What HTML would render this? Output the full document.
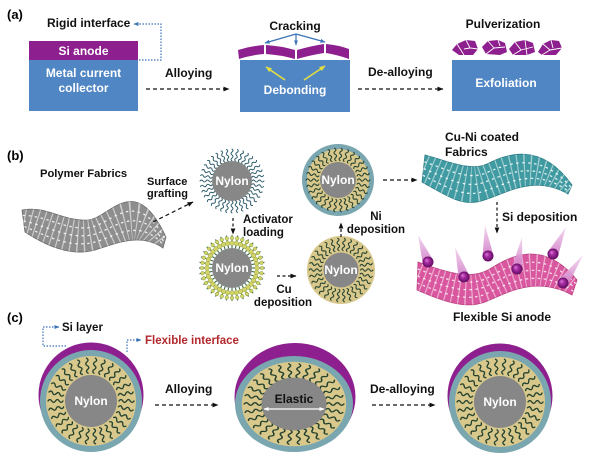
<!DOCTYPE html>
<html><head><meta charset="utf-8"><style>
html,body{margin:0;padding:0;background:#fff;}
svg{display:block;}
text{font-family:"Liberation Sans",Arial,sans-serif;font-weight:bold;}
</style></head><body>
<svg width="600" height="456" viewBox="0 0 600 456" xmlns="http://www.w3.org/2000/svg">
<defs>
<marker id="ah" viewBox="0 0 6 6" markerWidth="6" markerHeight="6" refX="5.5" refY="3" orient="auto" markerUnits="userSpaceOnUse"><path d="M0,0.6 L6,3 L0,5.4Z" fill="#111"/></marker>
<marker id="ahB" viewBox="0 0 6 6" markerWidth="5" markerHeight="5" refX="5.5" refY="3" orient="auto" markerUnits="userSpaceOnUse"><path d="M0,0.6 L6,3 L0,5.4Z" fill="#3b72b8"/></marker>
<marker id="ahY" viewBox="0 0 6 6" markerWidth="6" markerHeight="6" refX="5.5" refY="3" orient="auto" markerUnits="userSpaceOnUse"><path d="M0,0.6 L6,3 L0,5.4Z" fill="#e4df3f"/></marker>
<marker id="ahW" viewBox="0 0 6 6" markerWidth="5" markerHeight="5" refX="5.5" refY="3" orient="auto-start-reverse" markerUnits="userSpaceOnUse"><path d="M0,0.6 L6,3 L0,5.4Z" fill="#fff"/></marker>
<radialGradient id="ball" cx="50%" cy="50%" r="50%" fx="35%" fy="32%"><stop offset="0" stop-color="#dc7ad8"/><stop offset="0.45" stop-color="#a3299f"/><stop offset="1" stop-color="#5e0c5e"/></radialGradient>
<linearGradient id="cone" x1="0" y1="0" x2="0" y2="1"><stop offset="0" stop-color="#f3d8ef"/><stop offset="1" stop-color="#cf78c6"/></linearGradient>

<clipPath id="cpG"><path d="M22,210 C45,205 65,222 88,220 C110,218 135,170 166,237 L163,248 C140,232 115,244 95,250 C70,257 45,245 25,232 Z"/></clipPath>
<clipPath id="cpT"><path d="M425,155 C445,160 470,172 487,164 C505,155 540,140 572,185 L568,194 C530,172 500,198 477,202 C460,205 445,195 422,182 Z"/></clipPath>
<clipPath id="cpP"><path d="M418,262 C445,272 470,280 488,270 C505,260 540,235 577,280 L572,295 C535,275 505,294 485,302 C465,310 440,300 417,290 Z"/></clipPath>

<path id="sqC" d="M28,0 q1.875,-2.8 3.75,0 t3.75,0 t3.75,0 t3.75,0" fill="none" stroke="#25422f" stroke-width="1.35" stroke-linecap="round"/>
<g id="g5C"><use href="#sqC"/><use href="#sqC" transform="rotate(12)"/><use href="#sqC" transform="rotate(24)"/><use href="#sqC" transform="rotate(36)"/><use href="#sqC" transform="rotate(48)"/></g>
<g id="rC"><use href="#g5C"/><use href="#g5C" transform="rotate(60)"/><use href="#g5C" transform="rotate(120)"/><use href="#g5C" transform="rotate(180)"/><use href="#g5C" transform="rotate(240)"/><use href="#g5C" transform="rotate(300)"/></g>

<path id="sqB" d="M19.5,0 q1.55,-2.3 3.1,0 t3.1,0 t3.1,0 t3.1,0" fill="none" stroke="#25422f" stroke-width="1.1" stroke-linecap="round"/>
<g id="g5B"><use href="#sqB"/><use href="#sqB" transform="rotate(12)"/><use href="#sqB" transform="rotate(24)"/><use href="#sqB" transform="rotate(36)"/><use href="#sqB" transform="rotate(48)"/></g>
<g id="rB"><use href="#g5B"/><use href="#g5B" transform="rotate(60)"/><use href="#g5B" transform="rotate(120)"/><use href="#g5B" transform="rotate(180)"/><use href="#g5B" transform="rotate(240)"/><use href="#g5B" transform="rotate(300)"/></g>

<path id="sqH" d="M20,0 q1.5,-2 3,0 t3,0 t3,0 t3,0" fill="none" stroke="#2e5b6b" stroke-width="1.0" stroke-linecap="round"/>
<g id="g6H"><use href="#sqH"/><use href="#sqH" transform="rotate(10)"/><use href="#sqH" transform="rotate(20)"/><use href="#sqH" transform="rotate(30)"/><use href="#sqH" transform="rotate(40)"/><use href="#sqH" transform="rotate(50)"/></g>
<g id="rH"><use href="#g6H"/><use href="#g6H" transform="rotate(60)"/><use href="#g6H" transform="rotate(120)"/><use href="#g6H" transform="rotate(180)"/><use href="#g6H" transform="rotate(240)"/><use href="#g6H" transform="rotate(300)"/></g>

<g id="a1"><line x1="20" y1="0" x2="33" y2="0" stroke="#3a6b47" stroke-width="1.1"/><circle cx="25" cy="0" r="2.3" fill="#d4d466" stroke="#7d9440" stroke-width="0.4"/><circle cx="30" cy="0" r="1.8" fill="#d4d466" stroke="#7d9440" stroke-width="0.4"/></g>
<g id="g6A"><use href="#a1"/><use href="#a1" transform="rotate(10)"/><use href="#a1" transform="rotate(20)"/><use href="#a1" transform="rotate(30)"/><use href="#a1" transform="rotate(40)"/><use href="#a1" transform="rotate(50)"/></g>
<g id="rA"><use href="#g6A"/><use href="#g6A" transform="rotate(60)"/><use href="#g6A" transform="rotate(120)"/><use href="#g6A" transform="rotate(180)"/><use href="#g6A" transform="rotate(240)"/><use href="#g6A" transform="rotate(300)"/></g>
</defs>

<!-- ================= Panel (a) ================= -->
<text x="7" y="19" font-size="13">(a)</text>
<text x="47" y="27" font-size="12" fill="#111">Rigid interface</text>
<polyline points="139,60 161,60 161,24 134,24" fill="none" stroke="#3b72b8" stroke-width="1.2" stroke-dasharray="1.5,1.5" marker-end="url(#ahB)"/>
<rect x="29" y="41" width="109" height="19" fill="#8e1f8e"/>
<rect x="29" y="60" width="109" height="51" fill="#5086c4"/>
<text x="83.5" y="55" font-size="12" fill="#fff" text-anchor="middle">Si anode</text>
<text x="83.5" y="77" font-size="12" fill="#fff" text-anchor="middle">Metal current</text>
<text x="83.5" y="92" font-size="12" fill="#fff" text-anchor="middle">collector</text>

<text x="165" y="77" font-size="12" fill="#111">Alloying</text>
<line x1="146" y1="89" x2="229" y2="89" stroke="#111" stroke-width="1.2" stroke-dasharray="4,3" marker-end="url(#ah)"/>

<text x="295" y="30" font-size="12" fill="#111" text-anchor="middle">Cracking</text>
<g stroke="#3b72b8" stroke-width="1.2" fill="none">
<line x1="296" y1="34" x2="265" y2="43" marker-end="url(#ahB)"/>
<line x1="296" y1="34" x2="296" y2="45" marker-end="url(#ahB)"/>
<line x1="296" y1="34" x2="325" y2="42" marker-end="url(#ahB)"/>
</g>
<rect x="240" y="60" width="110" height="52" fill="#5086c4"/>
<g fill="#8e1f8e">
<path d="M238,50 Q251,46 264,45 L264,54 Q251,55 239,59 Z"/>
<path d="M266,45 Q281,46 295,50 L295,59 Q281,55 266,54 Z"/>
<path d="M297,50 Q311,46 324,44 L324,53 Q311,55 297,59 Z"/>
<path d="M326,44 Q338,45 349,49 L349,59 Q338,55 326,53 Z"/>
</g>
<g stroke="#e4df3f" stroke-width="1.6" fill="none">
<line x1="285" y1="80" x2="266" y2="67" marker-end="url(#ahY)"/>
<line x1="304" y1="80" x2="325" y2="66" marker-end="url(#ahY)"/>
</g>
<text x="295" y="94" font-size="12" fill="#fff" text-anchor="middle">Debonding</text>

<text x="368" y="76" font-size="12" fill="#111">De-alloying</text>
<line x1="358" y1="89" x2="443" y2="89" stroke="#111" stroke-width="1.2" stroke-dasharray="4,3" marker-end="url(#ah)"/>

<text x="503" y="28" font-size="12" fill="#111" text-anchor="middle">Pulverization</text>
<g fill="#8e1f8e">
<polygon points="452,50 457,44 466,40 475,41 478,49 473,55 459,55"/>
<polygon points="482,47 488,41 498,40 505,43 507,52 500,55 486,54"/>
<polygon points="509,49 515,42 525,40 533,43 535,52 527,55 513,55"/>
<polygon points="538,52 543,44 551,40 559,41 562,48 556,55 542,55"/>
</g>
<g stroke="#fff" stroke-width="0.9" fill="none">
<path d="M457,44 L464,55 M466,40 L470,48 L478,49 M464,49 L470,48"/>
<path d="M488,41 L494,48 L486,54 M494,48 L505,47 M498,40 L500,46"/>
<path d="M515,42 L521,50 L513,55 M521,50 L533,47 M525,40 L527,55"/>
<path d="M543,44 L550,50 L542,55 M550,50 L562,48 M551,40 L553,48"/>
</g>
<rect x="452" y="60" width="108" height="51" fill="#5086c4"/>
<text x="506" y="87" font-size="12" fill="#fff" text-anchor="middle">Exfoliation</text>

<!-- ================= Panel (b) ================= -->
<text x="7" y="160" font-size="13">(b)</text>
<text x="40" y="177" font-size="11.2" fill="#111">Polymer Fabrics</text>

<!-- gray fabric -->
<path d="M22,210 C45,205 65,222 88,220 C110,218 135,170 166,237 L163,248 C140,232 115,244 95,250 C70,257 45,245 25,232 Z" fill="#8e8e8e" stroke="#6a6a6a" stroke-width="0.8"/>
<g clip-path="url(#cpG)">
<path d="M23.5,221 C45,225 67.5,239.5 91.5,235 C112.5,231 137.5,201 164.5,242.5" fill="none" stroke="#fff" stroke-width="40" stroke-dasharray="1.2,5" opacity="0.55"/>
<g fill="none" stroke="#fff" stroke-width="1.3" stroke-dasharray="2.5,3.5" opacity="0.85">
<path d="M22.75,215.5 C45,215 66.25,230.75 89.75,227.5 C111.25,224.5 136.25,185.5 165.25,239.75"/>
<path d="M23.5,221 C45,225 67.5,239.5 91.5,235 C112.5,231 137.5,201 164.5,242.5"/>
<path d="M24.25,226.5 C45,235 68.75,248.25 93.25,242.5 C113.75,237.5 138.75,216.5 163.75,245.25"/>
</g>
</g>

<text x="147" y="185" font-size="11" fill="#111">Surface</text>
<text x="147" y="197" font-size="11" fill="#111">grafting</text>
<line x1="153" y1="222" x2="193" y2="202" stroke="#111" stroke-width="1.2" stroke-dasharray="4,3" marker-end="url(#ah)"/>

<!-- circle 1: grafted -->
<use href="#rH" transform="translate(232,181)"/>
<circle cx="232" cy="181" r="20" fill="#878787"/>
<text x="232" y="185" font-size="12" fill="#fff" text-anchor="middle">Nylon</text>

<line x1="233" y1="218" x2="233" y2="234" stroke="#111" stroke-width="1.2" stroke-dasharray="3,2.5" marker-end="url(#ah)"/>
<text x="243" y="223" font-size="11.5" fill="#111">Activator</text>
<text x="243" y="236" font-size="11.5" fill="#111">loading</text>

<!-- circle 2: activator -->
<use href="#rA" transform="translate(232,268)"/>
<circle cx="232" cy="268" r="20" fill="#878787"/>
<text x="232" y="272" font-size="12" fill="#fff" text-anchor="middle">Nylon</text>

<line x1="277" y1="276" x2="296" y2="276" stroke="#111" stroke-width="1.2" stroke-dasharray="3,2.5" marker-end="url(#ah)"/>
<text x="284" y="293" font-size="11.5" fill="#111" text-anchor="middle">Cu</text>
<text x="283" y="306" font-size="11.5" fill="#111" text-anchor="middle">deposition</text>

<!-- circle 3: Cu -->
<circle cx="341" cy="270" r="34" fill="#d8c88c"/>
<use href="#rB" transform="translate(341,270)"/>
<circle cx="341" cy="270" r="17.5" fill="#878787"/>
<text x="341" y="274" font-size="12" fill="#fff" text-anchor="middle">Nylon</text>

<line x1="341" y1="237" x2="341" y2="223" stroke="#111" stroke-width="1.2" stroke-dasharray="3,2" marker-end="url(#ah)"/>
<text x="376" y="220" font-size="11.5" fill="#111" text-anchor="middle">Ni</text>
<text x="376" y="233" font-size="11.5" fill="#111" text-anchor="middle">deposition</text>

<!-- circle 4: Ni -->
<circle cx="338" cy="180" r="36" fill="#7aa6b0"/>
<circle cx="338" cy="180" r="31" fill="#d8c88c"/>
<use href="#rB" transform="translate(338,180)"/>
<circle cx="338" cy="180" r="18" fill="#878787"/>
<text x="338" y="184" font-size="12" fill="#fff" text-anchor="middle">Nylon</text>

<line x1="383" y1="180" x2="417" y2="180" stroke="#111" stroke-width="1.2" stroke-dasharray="4,3" marker-end="url(#ah)"/>

<text x="445" y="141" font-size="12" fill="#111">Cu-Ni coated</text>
<text x="445" y="156" font-size="12" fill="#111">Fabrics</text>

<!-- teal fabric -->
<path d="M425,155 C445,160 470,172 487,164 C505,155 540,140 572,185 L568,194 C530,172 500,198 477,202 C460,205 445,195 422,182 Z" fill="#3f9aa1" stroke="#2c7d84" stroke-width="0.8"/>
<g clip-path="url(#cpT)">
<path d="M423.5,168.5 C445,177.5 465,188.5 482,183 C502.5,176.5 535,156 570,189.5" fill="none" stroke="#fff" stroke-width="40" stroke-dasharray="1.2,5" opacity="0.5"/>
<g fill="none" stroke="#fff" stroke-width="1.3" stroke-dasharray="2.5,3.5" opacity="0.85">
<path d="M424.25,161.75 C445,168.75 467.5,180.25 484.5,173.5 C503.75,165.75 537.5,148 571,187.25"/>
<path d="M423.5,168.5 C445,177.5 465,188.5 482,183 C502.5,176.5 535,156 570,189.5"/>
<path d="M422.75,175.25 C445,186.25 462.5,196.75 479.5,192.5 C501.25,187.25 532.5,164 569,191.75"/>
</g>
</g>

<line x1="497" y1="202" x2="497" y2="233" stroke="#111" stroke-width="1.2" stroke-dasharray="3,2.5" marker-end="url(#ah)"/>
<text x="502" y="221" font-size="12" fill="#111">Si deposition</text>

<!-- pink fabric -->
<path d="M418,262 C445,272 470,280 488,270 C505,260 540,235 577,280 L572,295 C535,275 505,294 485,302 C465,310 440,300 417,290 Z" fill="#d9579f" stroke="#b8407f" stroke-width="0.8"/>
<g clip-path="url(#cpP)">
<path d="M417.5,276 C442.5,286 467.5,295 486.5,286 C505,277 537.5,255 574.5,287.5" fill="none" stroke="#fff" stroke-width="44" stroke-dasharray="1.2,5" opacity="0.5"/>
<g fill="none" stroke="#fff" stroke-width="1.3" stroke-dasharray="2.5,3.5" opacity="0.8">
<path d="M417.75,269 C443.75,279 468.75,287.5 487.25,278 C505,268.5 538.75,245 575.75,283.75"/>
<path d="M417.5,276 C442.5,286 467.5,295 486.5,286 C505,277 537.5,255 574.5,287.5"/>
<path d="M417.25,283 C441.25,293 466.25,302.5 485.75,294 C505,285.5 536.25,265 573.25,291.25"/>
</g>
</g>
<!-- cones -->
<g fill="url(#cone)" opacity="0.9">
<polygon points="418,235 422.8,263.9 433.2,260.1"/>
<polygon points="455,247 458.7,278.6 469.3,275.4"/>
<polygon points="485,225 482.5,256.5 493.5,255.5"/>
<polygon points="522,237 511.6,268.2 522.4,269.8"/>
<polygon points="566,227 548,251.6 558,256.4"/>
<polygon points="583,255 558.5,279.8 567.5,286.2"/>
</g>
<g fill="url(#ball)">
<circle cx="428" cy="262" r="5.5"/>
<circle cx="464" cy="277" r="5.5"/>
<circle cx="488" cy="256" r="5.5"/>
<circle cx="517" cy="269" r="5.5"/>
<circle cx="553" cy="254" r="5.5"/>
<circle cx="563" cy="283" r="5.5"/>
</g>
<text x="453" y="321" font-size="12" fill="#111">Flexible Si anode</text>

<!-- ================= Panel (c) ================= -->
<text x="7" y="322" font-size="13">(c)</text>
<text x="62" y="331" font-size="11.5" fill="#111">Si layer</text>
<polyline points="66,346 43,346 43,327 59,327" fill="none" stroke="#3b72b8" stroke-width="1.2" stroke-dasharray="1.5,1.5" marker-end="url(#ahB)"/>
<text x="145" y="344" font-size="11.5" fill="#b3282d">Flexible interface</text>
<polyline points="127,352 127,340 141,340" fill="none" stroke="#3b72b8" stroke-width="1.2" stroke-dasharray="1.5,1.5" marker-end="url(#ahB)"/>

<!-- left circle -->
<circle cx="91" cy="395" r="52.5" fill="#8e1f8e"/>
<circle cx="91" cy="401" r="51" fill="#7aa6b0"/>
<circle cx="91" cy="401" r="45" fill="#d8c88c"/>
<use href="#rC" transform="translate(91,401)"/>
<circle cx="91" cy="401" r="26" fill="#878787"/>
<text x="91" y="405" font-size="12" fill="#fff" text-anchor="middle">Nylon</text>

<text x="165" y="393" font-size="12" fill="#111">Alloying</text>
<line x1="155" y1="405" x2="218" y2="405" stroke="#111" stroke-width="1.2" stroke-dasharray="4,3" marker-end="url(#ah)"/>

<!-- middle ellipse -->
<ellipse cx="295" cy="397" rx="60.5" ry="54" fill="#8e1f8e"/>
<ellipse cx="294" cy="404" rx="59" ry="48" fill="#7aa6b0"/>
<g transform="translate(294,404) scale(1.16,0.94)">
<circle cx="0" cy="0" r="45" fill="#d8c88c"/>
<use href="#rC"/>
<circle cx="0" cy="0" r="28" fill="#878787"/>
</g>
<text x="294" y="403" font-size="12" fill="#111" text-anchor="middle">Elastic</text>
<line x1="264" y1="409" x2="324" y2="409" stroke="#fff" stroke-width="1.3" marker-start="url(#ahW)" marker-end="url(#ahW)"/>

<text x="370" y="393" font-size="12" fill="#111">De-alloying</text>
<line x1="372" y1="405" x2="435" y2="405" stroke="#111" stroke-width="1.2" stroke-dasharray="4,3" marker-end="url(#ah)"/>

<!-- right circle -->
<circle cx="500" cy="396" r="52.5" fill="#8e1f8e"/>
<circle cx="500" cy="402" r="51" fill="#7aa6b0"/>
<circle cx="500" cy="402" r="45" fill="#d8c88c"/>
<use href="#rC" transform="translate(500,402)"/>
<circle cx="500" cy="402" r="26" fill="#878787"/>
<text x="500" y="406" font-size="12" fill="#fff" text-anchor="middle">Nylon</text>
</svg>
</body></html>
